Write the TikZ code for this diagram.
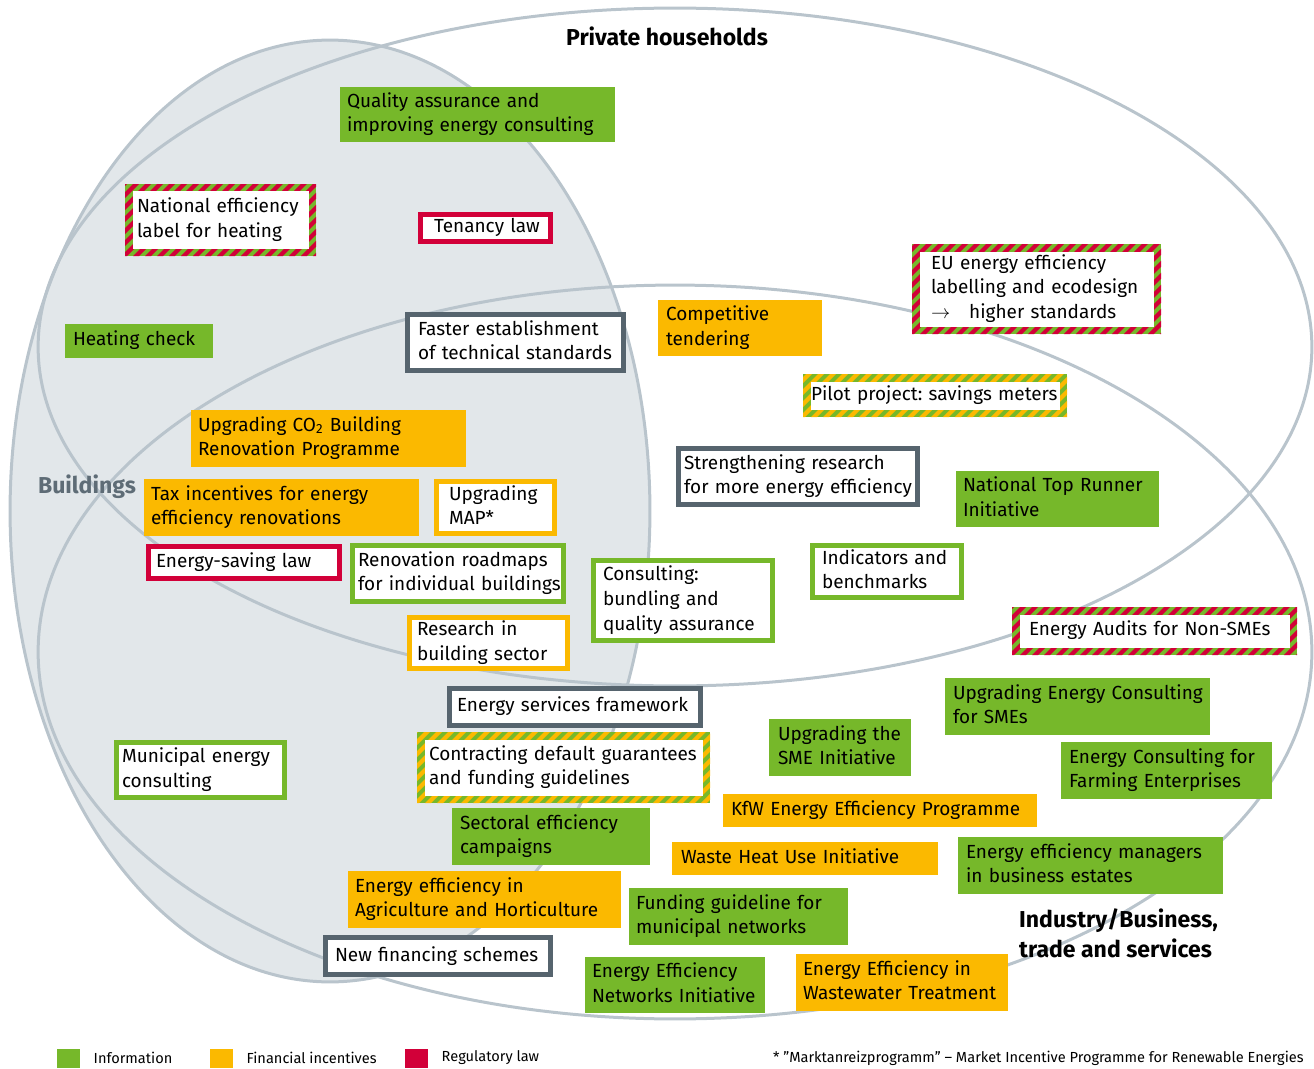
\documentclass[tikz,border=0pt]{standalone}
\usepackage{fontspec}
\setmainfont{Fira Sans}
\usepackage{tikz}
\usetikzlibrary{positioning}
\frenchspacing

\definecolor{infogreen}{HTML}{76B82A}
\definecolor{finyellow}{HTML}{FBB900}
\definecolor{lawred}{HTML}{D20039}
\definecolor{darkgrey}{HTML}{56646E}
\definecolor{ringgrey}{HTML}{B9C4CC}
\definecolor{bldgfill}{HTML}{E2E7EA}
\definecolor{bldgtext}{HTML}{5E6C76}

% lines of a box, never broken
\newcommand\ptext[1]{\begin{tabular}{@{}l@{}}#1\end{tabular}}

\tikzset{
  ring/.style={draw=ringgrey, line width=0.06cm},
  policy/.style={anchor=north west, align=left, inner ysep=0pt, outer sep=0pt,
    font=\fontsize{10.8}{14.2}\selectfont, text=black},
  boxsize/.style n args={3}{minimum width=#1*0.02cm, minimum height=#2*0.02cm,
    inner xsep=#3*0.02cm, text width=(#1-2*#3)*0.02cm},
  infofill/.style={policy, fill=infogreen},
  finfill/.style={policy, fill=finyellow},
  frame/.style={policy, fill=#1, path picture={
      \fill[white] ([shift={(0.1cm,0.1cm)}]path picture bounding box.south west)
        rectangle ([shift={(-0.1cm,-0.1cm)}]path picture bounding box.north east);}},
  stripeframe/.style={policy, fill=infogreen, path picture={
      \foreach \s in {0,...,40}
        \fill[#1] ([xshift=\s*0.24cm-2cm]path picture bounding box.south west)
          -- ++(0.12cm,0) -- ++(2cm,2cm) -- ++(-0.12cm,0) -- cycle;
      \fill[white] ([shift={(0.15cm,0.15cm)}]path picture bounding box.south west)
        rectangle ([shift={(-0.15cm,-0.15cm)}]path picture bounding box.north east);}},
  heading/.style={font=\fontsize{13.1}{17.6}\selectfont\bfseries, align=left},
  legbox/.style={minimum width=0.46cm, minimum height=0.38cm, inner sep=0pt},
  legtext/.style={font=\fontsize{8.3}{10}\selectfont, inner sep=0pt}
}

\begin{document}
\begin{tikzpicture}[x=0.02cm, y=-0.02cm]
  \useasboundingbox (0,0) rectangle (1314,1068);

  % Buildings (grey area) and the three rings
  \fill[bldgfill] (330,511) ellipse [x radius=6.4cm, y radius=9.42cm];
  \draw[ring] (330,511) ellipse [x radius=6.4cm, y radius=9.42cm];
  \draw[ring] (675,347) ellipse [x radius=12.74cm, y radius=6.78cm];
  \draw[ring] (675,652) ellipse [x radius=12.74cm, y radius=7.34cm];

  % Titles
  \node[heading] (households) at (667,36) {Private households};
  \node[heading, text=bldgtext] (buildings) at (87,487) {Buildings};
  \node[heading, anchor=north west] (industry) at (1013,902) {Industry/Business,\\trade and services};

  % Private households
  \node[infofill, boxsize={275}{55}{7}] (quality) at (340,87) {\ptext{Quality assurance and\\improving energy consulting}};
  \node[stripeframe=lawred, boxsize={191}{72}{12}] (natlabel) at (125,184) {\ptext{National efficiency\\label for heating}};
  \node[frame=lawred, boxsize={135}{32}{16}] (tenancy) at (418,212) {\ptext{Tenancy law}};
  \node[stripeframe=lawred, boxsize={249}{90}{19}] (eulabel) at (912,244) {\ptext{EU energy efficiency\\labelling and ecodesign\\$\rightarrow$\quad higher standards}};
  \node[infofill, boxsize={148}{34}{8}] (heating) at (65,324) {\ptext{Heating check}};
  \node[frame=darkgrey, boxsize={221}{61}{13}] (faster) at (405,312) {\ptext{Faster establishment\\of technical standards}};
  \node[finfill, boxsize={164}{56}{8}] (tendering) at (658,300) {\ptext{Competitive\\tendering}};
  \node[stripeframe=finyellow, boxsize={264}{43}{8}] (pilot) at (803,374) {\ptext{Pilot project: savings meters}};

  % Buildings
  \node[finfill, boxsize={275}{57}{7}] (cotwo) at (191,410) {\ptext{Upgrading CO\textsubscript{2} Building\\Renovation Programme}};
  \node[finfill, boxsize={275}{57}{7}] (taxinc) at (144,479) {\ptext{Tax incentives for energy\\efficiency renovations}};
  \node[frame=finyellow, boxsize={123}{57}{15}] (map) at (434,479) {\ptext{Upgrading\\MAP*}};
  \node[frame=lawred, boxsize={196}{37}{10}] (esaving) at (146,544) {\ptext{Energy-saving law}};
  \node[frame=infogreen, boxsize={216}{61}{8}] (roadmaps) at (350,543) {\ptext{Renovation roadmaps\\for individual buildings}};
  \node[frame=finyellow, boxsize={163}{56}{10}] (research) at (407,615) {\ptext{Research in\\building sector}};
  \node[frame=infogreen, boxsize={173}{60}{8}] (municipal) at (114,740) {\ptext{Municipal energy\\consulting}};

  % overlap and industry
  \node[frame=darkgrey, boxsize={244}{61}{8}] (strengthen) at (676,446) {\ptext{Strengthening research\\for more energy efficiency}};
  \node[infofill, boxsize={203}{56}{7}] (toprunner) at (956,471) {\ptext{National Top Runner\\Initiative}};
  \node[frame=infogreen, boxsize={184}{85}{12}] (consulting) at (591,558) {\ptext{Consulting:\\bundling and\\quality assurance}};
  \node[frame=infogreen, boxsize={154}{57}{12}] (indicators) at (810,543) {\ptext{Indicators and\\benchmarks}};
  \node[stripeframe=lawred, boxsize={285}{48}{17}] (audits) at (1012,607) {\ptext{Energy Audits for Non-SMEs}};
  \node[frame=darkgrey, boxsize={256}{42}{10}] (esframe) at (447,686) {\ptext{Energy services framework}};
  \node[infofill, boxsize={265}{57}{8}] (smecons) at (945,678) {\ptext{Upgrading Energy Consulting\\for SMEs}};
  \node[infofill, boxsize={142}{57}{9}] (smeinit) at (769,719) {\ptext{Upgrading the\\SME Initiative}};
  \node[stripeframe=finyellow, boxsize={293}{71}{12}] (contracting) at (417,732) {\ptext{Contracting default guarantees\\and funding guidelines}};
  \node[infofill, boxsize={211}{57}{8}] (farming) at (1061,742) {\ptext{Energy Consulting for\\Farming Enterprises}};
  \node[finfill, boxsize={314}{33}{8}] (kfw) at (723,794) {\ptext{KfW Energy Efficiency Programme}};
  \node[infofill, boxsize={198}{57}{8}] (sectoral) at (452,808) {\ptext{Sectoral efficiency\\campaigns}};
  \node[finfill, boxsize={266}{33}{9}] (wasteheat) at (672,842) {\ptext{Waste Heat Use Initiative}};
  \node[infofill, boxsize={265}{57}{8}] (managers) at (958,837) {\ptext{Energy efficiency managers\\in business estates}};
  \node[finfill, boxsize={273}{57}{7}] (agri) at (348,871) {\ptext{Energy efficiency in\\Agriculture and Horticulture}};
  \node[infofill, boxsize={219}{57}{7}] (funding) at (629,888) {\ptext{Funding guideline for\\municipal networks}};
  \node[frame=darkgrey, boxsize={230}{42}{12}] (newfin) at (323,935) {\ptext{New financing schemes}};
  \node[infofill, boxsize={180}{56}{7}] (networks) at (585,957) {\ptext{Energy Efficiency\\Networks Initiative}};
  \node[finfill, boxsize={212}{57}{7}] (wastewater) at (796,954) {\ptext{Energy Efficiency in\\Wastewater Treatment}};

  % Legend
  \node[legbox, fill=infogreen] (leginfo) at (68.5,1058) {};
  \node[legtext, right=0.26cm of leginfo] (leginfotext) {Information};
  \node[legbox, fill=finyellow] (legfin) at (221.5,1058) {};
  \node[legtext, right=0.26cm of legfin] (legfintext) {Financial incentives};
  \node[legbox, fill=lawred] (leglaw) at (416.5,1058) {};
  \node[legtext, right=0.26cm of leglaw] (leglawtext) {Regulatory law};
  \node[legtext, anchor=east] (footnote) at (1304,1058) {* ”Marktanreizprogramm” – Market Incentive Programme for Renewable Energies};
\end{tikzpicture}
\end{document}
